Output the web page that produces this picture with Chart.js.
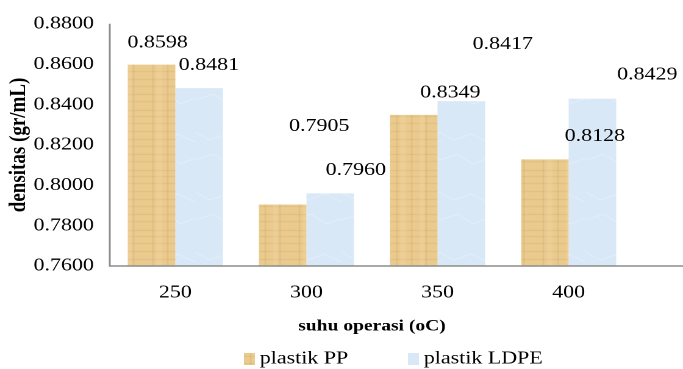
<!DOCTYPE html>
<html>
<head>
<meta charset="utf-8">
<script src="https://cdn.jsdelivr.net/npm/chart.js@4.4.1/dist/chart.umd.min.js"></script>
<style>
  html, body { margin: 0; padding: 0; background: #fff; overflow: hidden; }
  /* the original figure is stretched sideways, so the chart is drawn narrow and widened */
  #wrap { width: 560px; height: 369px; transform: scaleX(1.2196); transform-origin: 0 0; }
</style>
</head>
<body>
<div id="wrap"><canvas id="densChart" width="560" height="369"></canvas></div>
<script>
const suhu = ['250', '300', '350', '400'];
const plastikPP = [0.8598, 0.7905, 0.8349, 0.8128];
const plastikLDPE = [0.8481, 0.7960, 0.8417, 0.8429];
const yTicks = [0.76, 0.78, 0.80, 0.82, 0.84, 0.86, 0.88];

// label offsets (px) from the top of each bar, as placed by hand in the original
const ppLabelShift = [[5, -22], [30, -78], [30, -22], [41, -23]];
const ldpeLabelShift = [[8, -23], [21, -23], [34, -57], [45, -24]];

const serif = '"Liberation Serif", "Times New Roman", serif';

// papyrus-like texture for PP
function papyrus() {
    const c = document.createElement('canvas');
    c.width = 40; c.height = 60;
    const g = c.getContext('2d');
    g.fillStyle = '#eaca8d';
    g.fillRect(0, 0, 40, 60);
    g.globalAlpha = 0.14;
    g.fillStyle = '#a0783c';
    [3, 11, 19, 26, 34, 41, 50, 56].forEach(y => g.fillRect(0, y, 40, 1));
    [5, 17, 29].forEach(x => g.fillRect(x, 0, 1, 60));
    g.globalAlpha = 0.25;
    g.fillStyle = '#f7e0b0';
    g.fillRect(8, 0, 5, 60);
    g.fillRect(24, 0, 4, 60);
    return g.createPattern(c, 'repeat');
}

// pale marble texture for LDPE
function marble() {
    const c = document.createElement('canvas');
    c.width = 40; c.height = 60;
    const g = c.getContext('2d');
    g.fillStyle = '#d9e8f7';
    g.fillRect(0, 0, 40, 60);
    g.strokeStyle = 'rgba(238,245,252,0.7)';
    g.lineWidth = 1;
    g.beginPath();
    g.moveTo(0, 12); g.lineTo(12, 20); g.lineTo(26, 14); g.lineTo(40, 22);
    g.moveTo(0, 40); g.lineTo(15, 34); g.lineTo(28, 44); g.lineTo(40, 38);
    g.stroke();
    return g.createPattern(c, 'repeat');
}

const barLabels = {
    id: 'barLabels',
    afterDatasetsDraw(chart) {
        const ctx = chart.ctx;
        ctx.save();
        ctx.font = '18px ' + serif;
        ctx.fillStyle = '#000';
        ctx.textAlign = 'center';
        ctx.textBaseline = 'middle';
        const shifts = [ppLabelShift, ldpeLabelShift];
        chart.data.datasets.forEach((ds, i) => {
            chart.getDatasetMeta(i).data.forEach((bar, j) => {
                const s = shifts[i][j];
                ctx.fillText(ds.data[j].toFixed(4), bar.x + s[0], bar.y + s[1]);
            });
        });
        ctx.restore();
    }
};

// gray axis lines, the x axis running on to the right edge
const axisLines = {
    id: 'axisLines',
    afterDraw(chart) {
        const a = chart.chartArea;
        const ctx = chart.ctx;
        ctx.save();
        ctx.strokeStyle = '#8c8c8c';
        ctx.lineWidth = 1.5;
        ctx.beginPath();
        ctx.moveTo(a.left, a.top);
        ctx.lineTo(a.left, a.bottom);
        ctx.lineTo(chart.width, a.bottom);
        ctx.stroke();
        ctx.restore();
    }
};

// legend drawn under the axis title, items spread apart like the original
const spreadLegend = {
    id: 'spreadLegend',
    afterDraw(chart) {
        const ctx = chart.ctx;
        const starts = [200, 334.5];
        const y = 359;
        ctx.save();
        ctx.font = '18px ' + serif;
        ctx.textBaseline = 'middle';
        chart.data.datasets.forEach((ds, i) => {
            ctx.fillStyle = ds.backgroundColor;
            ctx.fillRect(starts[i], y - 6, 9, 12);
            ctx.fillStyle = '#000';
            ctx.fillText(ds.label, starts[i] + 13, y);
        });
        ctx.restore();
    }
};

new Chart(document.getElementById('densChart'), {
    type: 'bar',
    data: {
        labels: suhu,
        datasets: [
            {
                label: 'plastik PP',
                data: plastikPP,
                backgroundColor: papyrus(),
                borderWidth: 0,
                categoryPercentage: 0.726,
                barPercentage: 1.0
            },
            {
                label: 'plastik LDPE',
                data: plastikLDPE,
                backgroundColor: marble(),
                borderWidth: 0,
                categoryPercentage: 0.726,
                barPercentage: 1.0
            }
        ]
    },
    options: {
        responsive: false,
        animation: false,
        devicePixelRatio: 2,
        layout: { padding: { left: 0, right: 40, top: 23, bottom: 33 } },
        scales: {
            y: {
                min: 0.76,
                max: 0.88,
                afterBuildTicks: scale => { scale.ticks = yTicks.map(v => ({ value: v })); },
                afterFit: scale => { scale.width = 90; },
                grid: { display: false, drawTicks: false },
                border: { display: false },
                ticks: {
                    padding: 13,
                    color: '#000',
                    font: { family: serif, size: 18 },
                    callback: v => Number(v).toFixed(4)
                },
                title: {
                    display: true,
                    text: 'densitas (gr/mL)',
                    color: '#000',
                    font: { family: serif, size: 19, weight: 'bold' },
                    padding: { top: 4, bottom: 0 }
                }
            },
            x: {
                afterFit: scale => { scale.height = 70; },
                grid: { display: false, drawTicks: false },
                border: { display: false },
                ticks: {
                    padding: 16,
                    color: '#000',
                    font: { family: serif, size: 18 }
                },
                title: {
                    display: true,
                    text: 'suhu operasi (oC)',
                    color: '#000',
                    font: { family: serif, size: 16, weight: 'bold' },
                    padding: { top: 0, bottom: 0 }
                }
            }
        },
        plugins: {
            tooltip: { enabled: false },
            legend: { display: false }
        }
    },
    plugins: [barLabels, axisLines, spreadLegend]
});
</script>
</body>
</html>
